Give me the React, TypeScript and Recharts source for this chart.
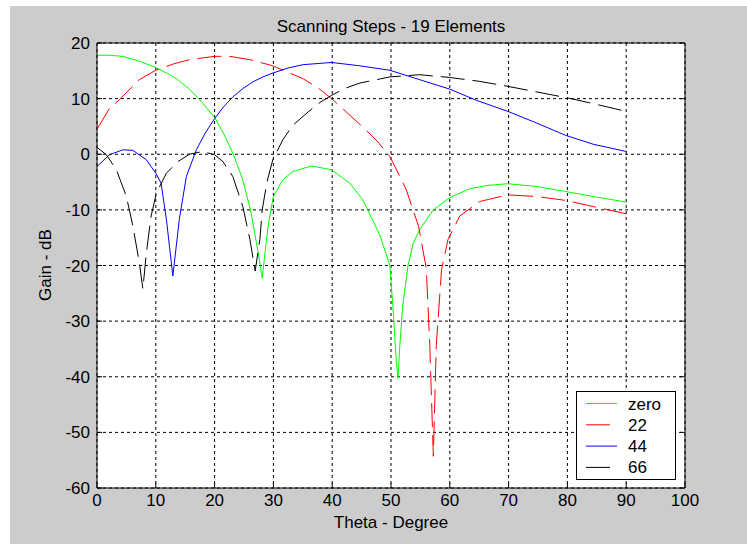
import { CartesianGrid, Legend, Line, LineChart, XAxis, YAxis } from "recharts";

const thetaZero = [0, 2, 4.4, 7, 10, 12, 13.5, 15.5, 17.4, 20, 21.5, 23.1, 24.8, 26.2, 27.4, 28.1, 28.6, 29.1, 30, 31.6, 33.3, 36.5, 39.9, 41.8, 43, 45.2, 48.1, 49.8, 50.4, 50.9, 51.2, 51.5, 52, 52.9, 53.8, 54.9, 57.2, 60, 63.4, 66.5, 69.8, 74.8, 79.7, 84.4, 90];
const gainZero = [17.8, 17.8, 17.6, 16.8, 15.6, 14.5, 13.6, 11.9, 9.9, 6.6, 3.8, 0.2, -4.6, -10.5, -17.6, -22.3, -17.5, -12.9, -7.6, -4.6, -3.1, -2.1, -2.8, -4.3, -5.2, -8.2, -14.5, -20, -28.4, -37.3, -40.3, -34.4, -27.2, -20, -15.9, -13.5, -10, -7.8, -6.2, -5.6, -5.3, -5.8, -6.7, -7.6, -8.6];

const theta22 = [0, 2.1, 3.8, 7.2, 10, 12.9, 15.7, 20, 22.6, 26, 29.9, 35, 37.5, 39.9, 42.5, 45.5, 47.7, 49.8, 51.8, 52.6, 54.7, 56, 56.6, 57.2, 57.7, 58.6, 59.7, 61.7, 65.1, 69.8, 74.8, 79.7, 84.4, 90];
const gain22 = [4.5, 8.2, 9.8, 13.4, 15.1, 16.2, 17, 17.6, 17.6, 17, 15.9, 13.6, 12, 10, 7.5, 4.6, 2.3, -0.4, -4.6, -6.4, -13, -20.5, -34.4, -54.3, -34.4, -20.7, -15.3, -11.1, -8.5, -7.3, -7.6, -8.3, -9.4, -10.7];

const theta44 = [0, 2.1, 4.4, 6.1, 8.4, 10, 10.9, 11.8, 12.9, 14, 15.2, 16.9, 18.4, 20, 21.5, 23.1, 24.8, 26.5, 28.2, 29.9, 32.5, 35, 39.9, 44.7, 49.8, 54.9, 60, 64.5, 69.9, 74.8, 79.7, 84.4, 90];
const gain44 = [-2.2, -0.1, 0.8, 0.7, -1, -3.4, -5.2, -11.7, -21.9, -11.7, -4, 0.8, 3.8, 6.4, 8.5, 10.3, 11.8, 13, 13.9, 14.6, 15.5, 16.1, 16.5, 15.9, 15.1, 13.4, 11.7, 9.7, 7.7, 5.6, 3.4, 1.8, 0.5];

const theta66 = [0, 1.6, 3.3, 5, 6.1, 7.2, 7.8, 8.4, 9.2, 10.1, 11.8, 13.8, 15.7, 18, 20, 21.4, 23.1, 24.8, 26, 26.9, 27.7, 28.1, 28.9, 29.9, 31.6, 33.3, 35.9, 37.9, 39.9, 42.3, 44.7, 49.8, 54.9, 60, 65.1, 69.9, 74.8, 79.7, 84.4, 90];
const gain66 = [1.25, -0.1, -2.8, -7.6, -12.9, -19.5, -24.2, -17.7, -11.1, -7, -3.4, -1.3, 0, 0.5, -0.1, -1.3, -4, -9.4, -15.3, -21, -15.3, -10, -5, -1, 2.6, 5.2, 7.6, 9.3, 10.6, 11.9, 12.8, 13.9, 14.3, 13.8, 13.1, 12.2, 11.2, 10.2, 9.1, 7.7];

const xTicks = [0, 10, 20, 30, 40, 50, 60, 70, 80, 90, 100];
const yTicks = [-60, -50, -40, -30, -20, -10, 0, 10, 20];

const zip = (theta: number[], gain: number[]) =>
  theta.map((t, i) => ({ theta: t, gain: gain[i] }));

const series = [
  { name: "zero", color: "#00ff00", dash: undefined, data: zip(thetaZero, gainZero) },
  { name: "22", color: "#ff0000", dash: "24 8", data: zip(theta22, gain22) },
  { name: "44", color: "#0000ff", dash: undefined, data: zip(theta44, gain44) },
  { name: "66", color: "#000000", dash: "24 8", data: zip(theta66, gain66) },
];

const FONT = '"Liberation Sans", Arial, sans-serif';
const TICK = 5;

function BottomTick({ x, y, payload }: any) {
  return (
    <g>
      <line x1={x} y1={y} x2={x} y2={y - TICK} stroke="#000" />
      <text x={x} y={y + 18} textAnchor="middle" fontSize={17} fontFamily={FONT} fill="#000">
        {payload.value}
      </text>
    </g>
  );
}

function LeftTick({ x, y, payload }: any) {
  return (
    <g>
      <line x1={x} y1={y} x2={x + TICK} y2={y} stroke="#000" />
      <text x={x - 7} y={y + 6} textAnchor="end" fontSize={17} fontFamily={FONT} fill="#000">
        {payload.value}
      </text>
    </g>
  );
}

function TopTick({ x, y }: any) {
  return <line x1={x} y1={y} x2={x} y2={y + TICK} stroke="#000" />;
}

function RightTick({ x, y }: any) {
  return <line x1={x} y1={y} x2={x - TICK} y2={y} stroke="#000" />;
}

function LegendBox() {
  return (
    <svg width={100} height={89} style={{ display: "block" }}>
      <rect x={0.5} y={0.5} width={99} height={88} fill="#fff" stroke="#000" />
      {series.map((s, i) => {
        const cy = 12.5 + i * 21.3;
        return (
          <g key={s.name}>
            <line x1={10} y1={cy} x2={41} y2={cy} stroke={s.color} strokeDasharray={s.dash} />
            <text x={52} y={cy + 6} fontSize={17} fontFamily={FONT} fill="#000">
              {s.name}
            </text>
          </g>
        );
      })}
    </svg>
  );
}

export default function App() {
  return (
    <div style={{ position: "absolute", left: 0, top: 0, width: 747, height: 544, background: "#fff" }}>
      <div
        style={{
          position: "absolute",
          left: 10,
          top: 6,
          width: 737,
          height: 538,
          background: "#cccccc",
          fontFamily: FONT,
        }}
      >
        <LineChart width={737} height={538} margin={{ top: 36, right: 61, bottom: 55, left: 86 }}>
          <CartesianGrid fill="#fff" fillOpacity={1} stroke="#000" strokeDasharray="3 3" />
          <XAxis
            dataKey="theta"
            type="number"
            domain={[0, 100]}
            ticks={xTicks}
            interval={0}
            height={1}
            tickSize={0}
            tickMargin={0}
            tickLine={false}
            tick={<BottomTick />}
            axisLine={{ stroke: "#000" }}
            allowDataOverflow
          />
          <XAxis
            xAxisId="top"
            orientation="top"
            type="number"
            domain={[0, 100]}
            ticks={xTicks}
            interval={0}
            height={1}
            tickSize={0}
            tickMargin={0}
            tickLine={false}
            tick={<TopTick />}
            axisLine={{ stroke: "#000" }}
            allowDataOverflow
          />
          <YAxis
            type="number"
            domain={[-60, 20]}
            ticks={yTicks}
            interval={0}
            width={1}
            tickSize={0}
            tickMargin={0}
            tickLine={false}
            tick={<LeftTick />}
            axisLine={{ stroke: "#000" }}
            allowDataOverflow
          />
          <YAxis
            yAxisId="right"
            orientation="right"
            type="number"
            domain={[-60, 20]}
            ticks={yTicks}
            interval={0}
            width={1}
            tickSize={0}
            tickMargin={0}
            tickLine={false}
            tick={<RightTick />}
            axisLine={{ stroke: "#000" }}
            allowDataOverflow
          />
          {series.map((s) => (
            <Line
              key={s.name}
              data={s.data}
              dataKey="gain"
              name={s.name}
              type="linear"
              stroke={s.color}
              strokeWidth={1}
              strokeDasharray={s.dash}
              dot={false}
              activeDot={false}
              isAnimationActive={false}
            />
          ))}
          <Legend
            layout="vertical"
            align="center"
            verticalAlign="middle"
            content={() => <LegendBox />}
            wrapperStyle={{ position: "absolute", left: 566, top: 385, width: 100, height: 89 }}
          />
        </LineChart>
        <div
          style={{
            position: "absolute",
            left: 381,
            top: 12,
            transform: "translateX(-50%)",
            fontSize: 17,
            whiteSpace: "nowrap",
            lineHeight: "18px",
          }}
        >
          Scanning Steps - 19 Elements
        </div>
        <div
          style={{
            position: "absolute",
            left: 381,
            top: 508,
            transform: "translateX(-50%)",
            fontSize: 17,
            whiteSpace: "nowrap",
            lineHeight: "18px",
          }}
        >
          Theta - Degree
        </div>
        <div
          style={{
            position: "absolute",
            left: 36,
            top: 259,
            transform: "translate(-50%, -50%) rotate(-90deg)",
            fontSize: 17,
            whiteSpace: "nowrap",
            lineHeight: "18px",
          }}
        >
          Gain - dB
        </div>
      </div>
    </div>
  );
}
